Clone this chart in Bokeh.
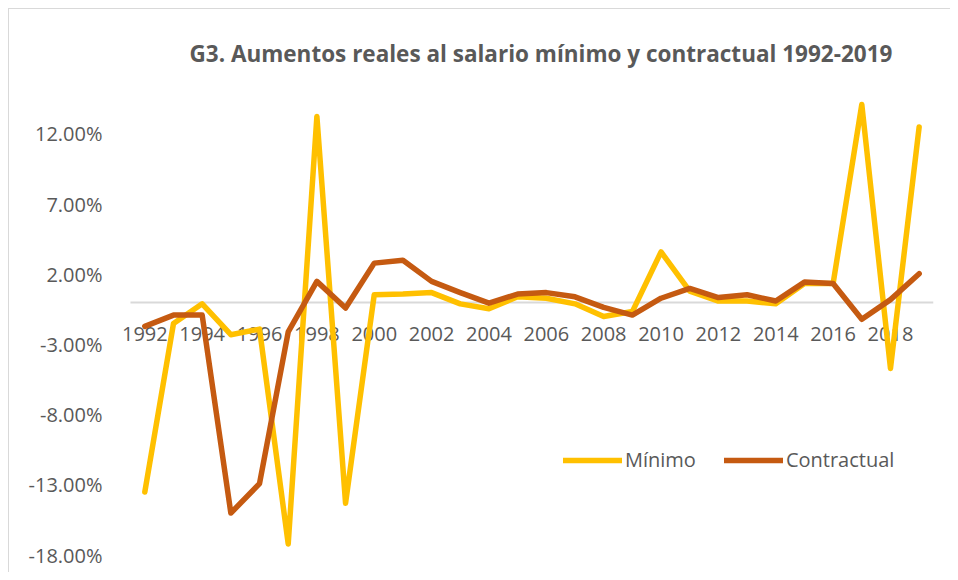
from bokeh.plotting import figure
from bokeh.models import Range1d, FixedTicker, PrintfTickFormatter, Legend, LegendItem, ColumnDataSource
from bokeh.core.properties import value
from bokeh.embed import file_html
from bokeh.resources import INLINE

years = list(range(1992, 2020))
minimo = [-13.5, -1.5, -0.1, -2.3, -1.9, -17.2, 13.25, -14.3, 0.55, 0.6,
          0.7, -0.1, -0.45, 0.4, 0.3, -0.1, -1.0, -0.65, 3.6, 0.8,
          0.1, 0.1, -0.1, 1.35, 1.35, 14.1, -4.7, 12.5]
contractual = [-1.7, -0.9, -0.9, -15.0, -12.9, -2.1, 1.5, -0.4, 2.8, 3.0,
               1.5, 0.7, -0.05, 0.6, 0.7, 0.4, -0.35, -0.9, 0.3, 1.0,
               0.35, 0.55, 0.1, 1.45, 1.35, -1.2, 0.2, 2.05]
x_labels = [str(y) for y in range(1992, 2019, 2)]
y_ticks = [-18, -13, -8, -3, 2, 7, 12]
title_text = "G3. Aumentos reales al salario mínimo y contractual 1992-2019"

FONT = "Open Sans"
GRAY = "#595959"

p = figure(width=942, height=564, output_backend="svg", toolbar_location=None,
           x_range=Range1d(1990.978, 2019.5), y_range=Range1d(-18.45, 15.38),
           min_border_left=106, min_border_right=18, min_border_top=77,
           min_border_bottom=12)
p.styles = {"margin-left": "8px", "margin-top": "8px",
            "border-left": "1px solid #d9d9d9", "border-top": "1px solid #d9d9d9"}

p.title.text = title_text
p.title.text_font = FONT
p.title.text_font_size = "22.5px"
p.title.text_font_style = "bold"
p.title.text_color = GRAY
p.title.align = "left"
p.title.offset = 74
p.title.standoff = 35

p.outline_line_color = None
p.xgrid.visible = False
p.ygrid.visible = False
p.xaxis.visible = False

ya = p.yaxis[0]
ya.ticker = FixedTicker(ticks=y_ticks)
ya.formatter = PrintfTickFormatter(format="%.2f%%")
ya.axis_line_color = None
ya.major_tick_line_color = None
ya.minor_tick_line_color = None
ya.major_label_standoff = 7
ya.major_label_text_font = FONT
ya.major_label_text_font_size = "20px"
ya.major_label_text_color = GRAY

# category axis line at zero, spanning the category band
p.segment(x0=[years[0] - 0.5], y0=[0], x1=[years[-1] + 0.5], y1=[0],
          line_color="#d9d9d9", line_width=2)

lab_src = ColumnDataSource(dict(x=[int(s) for s in x_labels], y=[0] * len(x_labels), t=x_labels))
p.text(x="x", y="y", text="t", source=lab_src, y_offset=32,
       text_align="center", text_baseline="middle",
       text_font=value(FONT), text_font_size="20px", text_color=GRAY)

r1 = p.line(years, minimo, line_color="#FFC000", line_width=5.5,
            line_join="round", line_cap="round")
r2 = p.line(years, contractual, line_color="#C55A11", line_width=5.5,
            line_join="round", line_cap="round")

legend = Legend(items=[LegendItem(label="Mínimo", renderers=[r1]),
                       LegendItem(label="Contractual", renderers=[r2])],
                location=(448, 88), orientation="horizontal",
                border_line_color=None, background_fill_alpha=0,
                label_text_font=FONT, label_text_font_size="20px",
                label_text_color=GRAY, glyph_width=59, glyph_height=20,
                label_standoff=3, spacing=28, padding=0, margin=0)
p.add_layout(legend)

open("out.html", "w").write(file_html(p, INLINE))
